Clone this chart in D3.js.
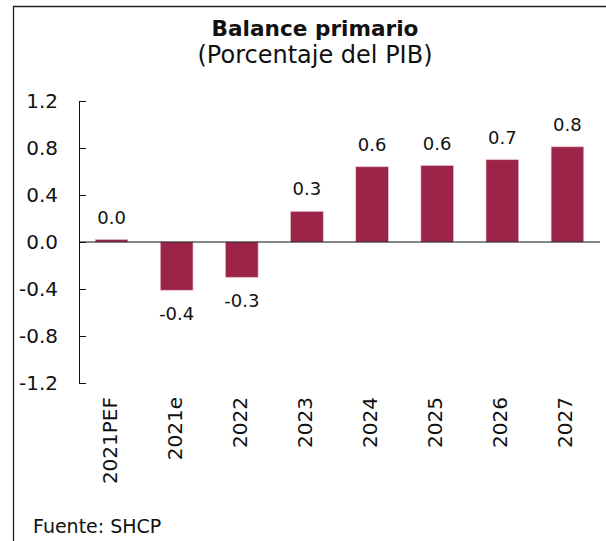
<!DOCTYPE html>
<html>
<head>
<meta charset="utf-8">
<script src="https://cdn.jsdelivr.net/npm/d3@7"></script>
<style>
  body { margin: 0; background: #fff; }
  svg text { font-family: "DejaVu Sans", sans-serif; fill: #111; }
</style>
</head>
<body>
<svg id="chart" width="606" height="541"></svg>
<script>
// chart data
const categories = ["2021PEF", "2021e", "2022", "2023", "2024", "2025", "2026", "2027"];
const values = [0.02, -0.41, -0.30, 0.26, 0.64, 0.65, 0.70, 0.81];
const labels = ["0.0", "-0.4", "-0.3", "0.3", "0.6", "0.6", "0.7", "0.8"];
const yTicks = [1.2, 0.8, 0.4, 0.0, -0.4, -0.8, -1.2];

const view = {
  width: 606,
  height: 541,
  left: 79,
  right: 600,
  top: 101,
  bottom: 383,
  barColor: "#9c2448"
}

const svg = d3.select("svg#chart");

// frame: left and top lines only
svg.append("path")
  .attr("d", `M13.5,${view.height} V6.5 H${view.width}`)
  .attr("fill", "none")
  .attr("stroke", "#222")
  .attr("stroke-width", 1.3);

svg.append("text")
  .attr("x", 315).attr("y", 36)
  .attr("text-anchor", "middle")
  .style("font-size", "21.6px")
  .style("font-weight", "bold")
  .text("Balance primario");

svg.append("text")
  .attr("x", 315).attr("y", 63)
  .attr("text-anchor", "middle")
  .style("font-size", "24px")
  .text("(Porcentaje del PIB)");

const x = d3.scaleBand()
  .domain(categories)
  .range([view.left, view.right])
  .paddingInner(0.5)
  .paddingOuter(0.25);

const y = d3.scaleLinear()
  .domain([-1.2, 1.2])
  .range([view.bottom, view.top]);

// y axis, ticks pointing inward, plain hyphen for negatives
const yAxis = d3.axisLeft(y)
  .tickValues(yTicks)
  .tickFormat(d => d.toFixed(1))
  .tickSizeInner(-7)
  .tickSizeOuter(-7)
  .tickPadding(21);

const gy = svg.append("g")
  .attr("transform", `translate(${view.left},0)`)
  .call(yAxis);
gy.selectAll("text")
  .style("font-size", "20px")
  .style("font-family", "DejaVu Sans")
  .attr("fill", "#111");
gy.selectAll("line, path").attr("stroke", "#111");

// bars
svg.append("g")
  .selectAll("rect")
  .data(values)
  .join("rect")
  .attr("x", (d, i) => x(categories[i]))
  .attr("width", x.bandwidth())
  .attr("y", d => y(Math.max(0, d)))
  .attr("height", d => Math.abs(y(d) - y(0)))
  .attr("fill", view.barColor)
  .attr("stroke", "#e3b4c2")
  .attr("stroke-width", 0.6);

// zero line
svg.append("line")
  .attr("x1", view.left).attr("x2", view.right)
  .attr("y1", y(0)).attr("y2", y(0))
  .attr("stroke", "#111")
  .attr("stroke-width", 1.2);

// value labels
svg.append("g")
  .selectAll("text")
  .data(values)
  .join("text")
  .attr("x", (d, i) => x(categories[i]) + x.bandwidth() / 2)
  .attr("y", d => d >= 0 ? y(d) - 16 : y(d) + 30)
  .attr("text-anchor", "middle")
  .style("font-size", "18px")
  .text((d, i) => labels[i]);

// category labels, rotated
svg.append("g")
  .selectAll("text")
  .data(categories)
  .join("text")
  .attr("transform", d => `translate(${x(d) + x.bandwidth() / 2 + 5},397) rotate(-90)`)
  .attr("text-anchor", "end")
  .style("font-size", "20px")
  .text(d => d);

svg.append("text")
  .attr("x", 33).attr("y", 533)
  .style("font-size", "19px")
  .text("Fuente: SHCP");
</script>
</body>
</html>
